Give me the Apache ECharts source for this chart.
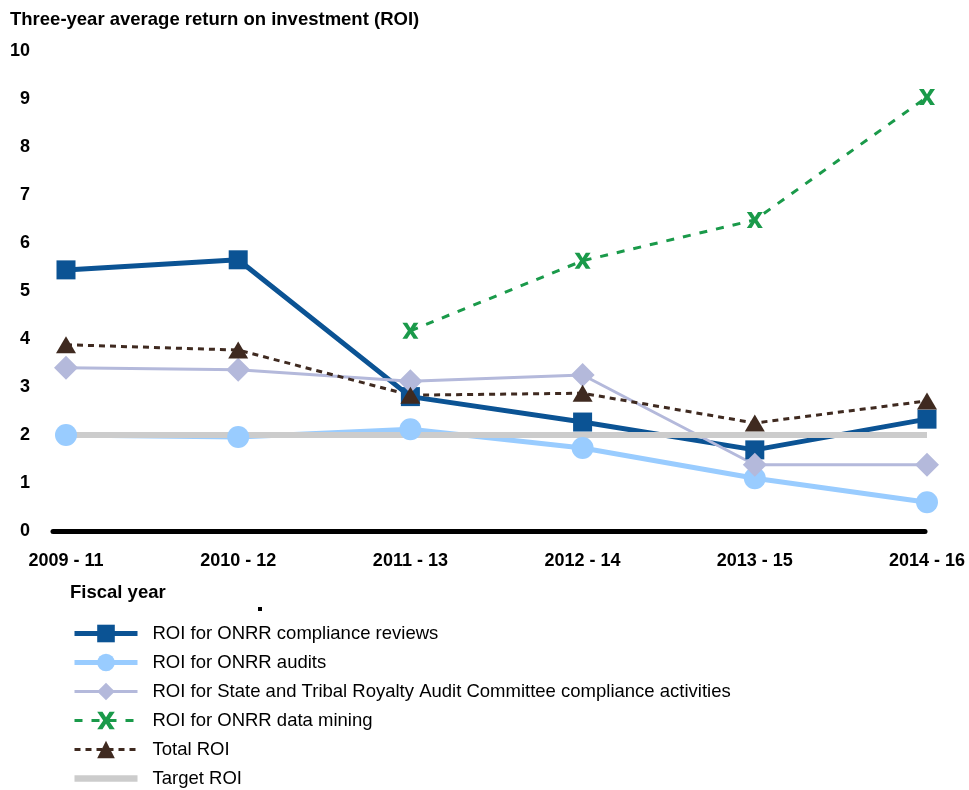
<!DOCTYPE html>
<html>
<head>
<meta charset="utf-8">
<title>Three-year average ROI</title>
<script src="https://cdn.jsdelivr.net/npm/echarts@6/dist/echarts.min.js"></script>
<style>
	* { margin: 0; padding: 0; border: 0; }
	html, body { height: 100%; background: #fff; }
	#main { width: 969px; height: 790px; }
</style>
</head>
<body>
	<div id="main"></div>
	<script type="text/javascript">
		// 数据
		var years = ['2009 - 11', '2010 - 12', '2011 - 13', '2012 - 14', '2013 - 15', '2014 - 16'];
		var complianceReviews = [5.44, 5.65, 2.8, 2.27, 1.69, 2.33];
		var audits = [2.0, 1.96, 2.12, 1.73, 1.1, 0.6];
		var stracActivities = [3.4, 3.36, 3.12, 3.25, 1.38, 1.38];
		var dataMining = ['-', '-', 4.17, 5.63, 6.48, 9.04];
		var totalRoi = [3.88, 3.77, 2.83, 2.87, 2.25, 2.71];
		var targetRoi = [2, 2, 2, 2, 2, 2];
		var yTicks = [0, 10, 1]; // min, max, interval

		var FONT = 'Arial, "Liberation Sans", sans-serif';
		var crossPath = 'path://M0,0 L3,0 L5,3.2 L7,0 L10,0 L6.6,5 L10,10 L7,10 L5,6.8 L3,10 L0,10 L3.4,5 Z';

		var myChart = echarts.init(document.getElementById('main'));

		var option = {
			backgroundColor: '#fff',
			animation: false,
			title: [
				{
					text: 'Three-year average return on investment (ROI)',
					left: 10, top: 10, padding: 0,
					textStyle: { fontFamily: FONT, fontSize: 18.5, fontWeight: 'bold', color: '#000' }
				},
				{
					text: 'Fiscal year',
					left: 70, top: 583, padding: 0,
					textStyle: { fontFamily: FONT, fontSize: 18.5, fontWeight: 'bold', color: '#000' }
				}
			],
			legend: {
				orient: 'vertical',
				left: 72, top: 624, height: 166, padding: 0,
				itemWidth: 63, itemHeight: 22, itemGap: 10,
				lineStyle: { width: 'inherit' },
				textStyle: { fontFamily: FONT, fontSize: 18.5, color: '#000', padding: [0, 0, 0, 10] },
				data: [
					'ROI for ONRR compliance reviews',
					'ROI for ONRR audits',
					'ROI for State and Tribal Royalty Audit Committee compliance activities',
					'ROI for ONRR data mining',
					'Total ROI',
					{ name: 'Target ROI', icon: 'path://M0,0 L60,0 L60,6 L0,6 Z' }
				]
			},
			grid: [
				// 只画黑色的x轴线
				{ left: 53, right: 44, top: 51, bottom: 259 },
				// 数据
				{ left: 66, right: 42, top: 51, bottom: 259 }
			],
			xAxis: [
				{
					gridIndex: 0, type: 'category', boundaryGap: false, data: years,
					axisLine: { show: true, lineStyle: { color: '#000', width: 5 } },
					axisTick: { show: false }, axisLabel: { show: false }, splitLine: { show: false }
				},
				{
					gridIndex: 1, type: 'category', boundaryGap: false, data: years,
					axisLine: { show: false }, axisTick: { show: false }, splitLine: { show: false },
					axisLabel: { interval: 0, margin: 21, fontFamily: FONT, fontSize: 18, fontWeight: 'bold', color: '#000' }
				}
			],
			yAxis: [
				{ gridIndex: 0, type: 'value', min: yTicks[0], max: yTicks[1], show: false },
				{
					gridIndex: 1, type: 'value', min: yTicks[0], max: yTicks[1], interval: yTicks[2],
					axisLine: { show: false }, axisTick: { show: false }, splitLine: { show: false },
					axisLabel: { margin: 36, fontFamily: FONT, fontSize: 18, fontWeight: 'bold', color: '#000' }
				}
			],
			series: [
				{
					name: 'ROI for ONRR compliance reviews', type: 'line', xAxisIndex: 1, yAxisIndex: 1,
					data: complianceReviews, symbol: 'rect', symbolSize: 19,
					lineStyle: { color: '#0B5394', width: 5 },
					itemStyle: { color: '#0B5394' }
				},
				{
					name: 'ROI for ONRR audits', type: 'line', xAxisIndex: 1, yAxisIndex: 1,
					data: audits, symbol: 'circle', symbolSize: 22,
					lineStyle: { color: '#99CCFF', width: 5 },
					itemStyle: { color: '#99CCFF' }
				},
				{
					name: 'ROI for State and Tribal Royalty Audit Committee compliance activities', type: 'line',
					xAxisIndex: 1, yAxisIndex: 1,
					data: stracActivities, symbol: 'diamond', symbolSize: [24, 24],
					lineStyle: { color: '#B4B9DB', width: 3 },
					itemStyle: { color: '#B4B9DB' }
				},
				{
					name: 'ROI for ONRR data mining', type: 'line', xAxisIndex: 1, yAxisIndex: 1,
					data: dataMining, symbol: crossPath, symbolSize: 16,
					lineStyle: { color: '#1A9A4A', width: 3, type: [8, 9] },
					itemStyle: { color: '#1A9A4A' }
				},
				{
					name: 'Total ROI', type: 'line', xAxisIndex: 1, yAxisIndex: 1,
					data: totalRoi, symbol: 'triangle', symbolSize: [20, 17],
					lineStyle: { color: '#3F2A20', width: 3, type: [6, 5] },
					itemStyle: { color: '#3F2A20' }
				},
				{
					name: 'Target ROI', type: 'line', xAxisIndex: 1, yAxisIndex: 1,
					data: targetRoi, symbol: 'none',
					lineStyle: { color: '#CCCCCC', width: 6 },
					itemStyle: { color: '#CCCCCC' }
				}
			],
			graphic: [
				// 原图中的小黑点
				{ type: 'rect', left: 258, top: 607, shape: { width: 4, height: 4 }, style: { fill: '#000' } }
			]
		};

		myChart.setOption(option);
	</script>
</body>
</html>
